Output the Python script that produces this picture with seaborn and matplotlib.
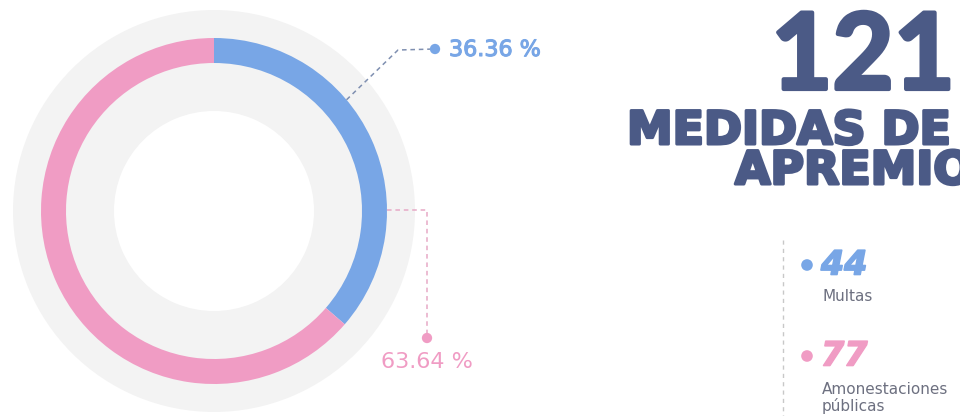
import numpy as np
import matplotlib.pyplot as plt
import matplotlib.patheffects as pe
import seaborn as sns

# datos
categorias = ["Multas", "Amonestaciones\npúblicas"]
valores = [44, 77]
colores = ["#78a6e6", "#f09cc4"]
total = sum(valores)
porcentajes = [v / total * 100 for v in valores]
titulo_num = str(total)
titulo_txt = ["MEDIDAS DE", "APREMIO"]

sns.set_theme(style="white")
plt.rcParams['font.family'] = ['DejaVu Sans']

W, H = 960, 416
fig = plt.figure(figsize=(9.6, 4.16), dpi=100)
ax = fig.add_axes([0, 0, 1, 1])

# centro y radios del anillo (en pixeles, y hacia arriba)
cx, cy = 214, H - 211
r_gris, r_anillo, ancho, r_blanco = 201, 173, 25, 100

ax.pie([1], radius=r_gris, center=(cx, cy), colors=["#f3f3f3"],
       wedgeprops=dict(linewidth=0))
wedges, _ = ax.pie(valores, radius=r_anillo, center=(cx, cy), colors=colores,
                   startangle=90, counterclock=False,
                   wedgeprops=dict(width=ancho, linewidth=0))
ax.pie([1], radius=r_blanco, center=(cx, cy), colors=["white"],
       wedgeprops=dict(linewidth=0))

ax.set_xlim(0, W)
ax.set_ylim(0, H)
ax.set_aspect("equal")
ax.axis("off")

# etiqueta azul
ang = np.deg2rad(40)
p0 = (cx + r_anillo * np.cos(ang), cy + r_anillo * np.sin(ang))
codo = (398, H - 50)
punto_azul = (435, H - 49)
ax.plot([p0[0], codo[0], punto_azul[0]], [p0[1], codo[1], punto_azul[1]],
        ls=(0, (3, 2.5)), color="#7f8fb0", lw=1.1, zorder=3)
ax.text(449, H - 50, f"{porcentajes[0]:.2f} %", color=colores[0], fontsize=16,
        va="center", ha="left",
        path_effects=[pe.withStroke(linewidth=0.8, foreground=colores[0])])

# etiqueta rosa
p1 = (cx + r_anillo, cy + 1)
codo2 = (427, cy + 1)
punto_rosa = (427, H - 338)
ax.plot([p1[0], codo2[0], punto_rosa[0]], [p1[1], codo2[1], punto_rosa[1]],
        ls=(0, (3, 2.5)), color="#e7a9c6", lw=1.1, zorder=3)
ax.text(427, H - 362, f"{porcentajes[1]:.2f} %", color=colores[1], fontsize=16,
        va="center", ha="center")

sns.scatterplot(x=[punto_azul[0], punto_rosa[0]], y=[punto_azul[1], punto_rosa[1]],
                hue=[0, 1], palette=colores, s=55, legend=False, ax=ax,
                linewidth=0, zorder=4)

# titulo derecho
azul_osc = "#4b5a86"
grueso = [pe.withStroke(linewidth=2.2, foreground=azul_osc)]
ax.text(955, H - 89, titulo_num, color=azul_osc, fontsize=76, fontweight="bold",
        family="Lato", ha="right", va="baseline",
        path_effects=[pe.withStroke(linewidth=3, foreground=azul_osc)])
ax.text(627, H - 144, titulo_txt[0], color=azul_osc, fontsize=33, fontweight="bold",
        ha="left", va="baseline", path_effects=grueso)
ax.text(735, H - 184, titulo_txt[1], color=azul_osc, fontsize=33, fontweight="bold",
        ha="left", va="baseline", path_effects=grueso)

# leyenda
ax.plot([783, 783], [H - 240, 0], ls=(0, (3, 3)), color="#c8c8c8", lw=1)
ys = [H - 265, H - 356]
sns.scatterplot(x=[807, 807], y=ys, hue=[0, 1], palette=colores, s=70,
                legend=False, ax=ax, linewidth=0, zorder=4)
for y, v, c, cat, dy in zip(ys, valores, colores, categorias, [24, 26]):
    ax.text(821, y, str(v), color=c, fontsize=24, fontweight="bold",
            style="italic", ha="left", va="center",
            path_effects=[pe.withStroke(linewidth=1.2, foreground=c)])
    ax.text(822, y - dy, cat, color="#6d7080", fontsize=11, ha="left",
            va="top", linespacing=1.05)

fig.savefig("out.png", dpi=100)
